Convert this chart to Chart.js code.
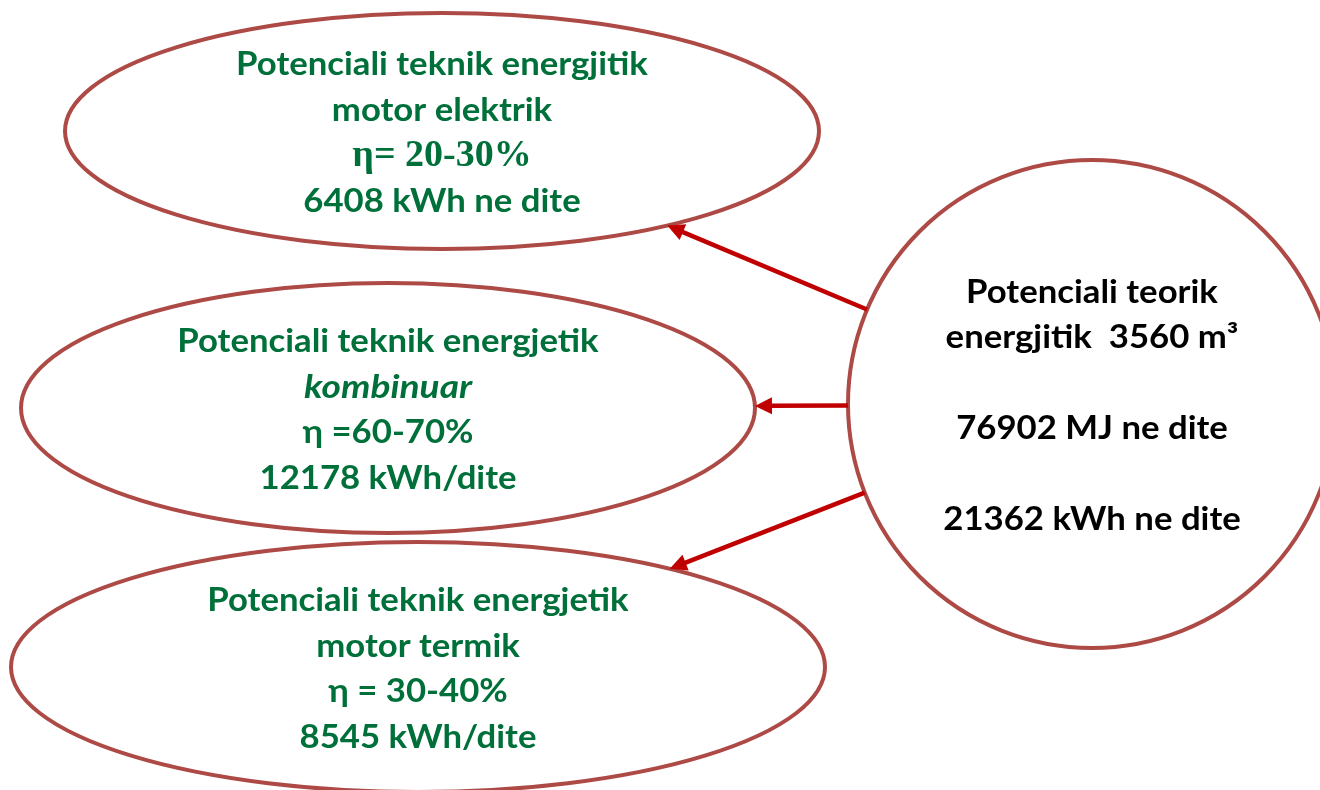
<!DOCTYPE html>
<html><head><meta charset="utf-8">
<script src="https://cdn.jsdelivr.net/npm/chart.js@4.4.1/dist/chart.umd.min.js"></script>
<style>html,body{margin:0;padding:0;background:#fff;overflow:hidden}canvas{display:block}</style>
</head><body>
<div style="width:1320px;height:790px"><canvas id="c" width="1320" height="790"></canvas></div>
<script>
// Diagram nodes (centre and radii in diagram units)
const nodeNames = ['motor elektrik', 'kombinuar', 'motor termik', 'teorik'];
const nodeX = [442, 388, 418, 1092];
const nodeY = [131, 408, 667, 404];
const nodeRX = [377, 367, 407, 244];
const nodeRY = [118, 125, 125, 244];
const nodeLabels = [
  ['Potenciali teknik energjitik', 'motor elektrik', 'η= 20-30%', '6408 kWh ne dite'],
  ['Potenciali teknik energjetik', 'kombinuar', 'η =60-70%', '12178 kWh/dite'],
  ['Potenciali teknik energjetik', 'motor termik', 'η = 30-40%', '8545 kWh/dite'],
  ['Potenciali teorik', 'energjitik  3560 m³', '', '76902 MJ ne dite', '', '21362 kWh ne dite']
];
// Arrows: from node -> to node
const edgeFrom = [3, 3, 3];
const edgeTo = [0, 1, 2];

// ---- styles ----
const ELLIPSE_STROKE = '#AD4A46';
const ARROW_COLOR = '#C00000';
const GREEN = '#00703A';
const STYLE_BASE = { font: '700 32px Lato', sx: 1.085 };
const STYLE_SERIF = { font: '700 38px "Liberation Serif"', sx: 1.0 };
const STYLE_ITALIC = { font: 'italic 700 32px Lato', sx: 1.16 };
const LINE_H = 45.5;
const BASE_OFF = 12.5;
function lineStyle(n, l) {
  if (n === 0 && l === 2) return STYLE_SERIF;
  if (n === 1 && l === 1) return STYLE_ITALIC;
  return STYLE_BASE;
}

const diagramPlugin = {
  id: 'diagram',
  afterDatasetsDraw(chart) {
    const ctx = chart.ctx;
    const xs = chart.scales.x, ys = chart.scales.y;
    const geo = nodeX.map((x, i) => {
      const px = xs.getPixelForValue(x), py = ys.getPixelForValue(nodeY[i]);
      return {
        x: px, y: py,
        rx: Math.abs(xs.getPixelForValue(x + nodeRX[i]) - px),
        ry: Math.abs(ys.getPixelForValue(nodeY[i] + nodeRY[i]) - py)
      };
    });
    ctx.save();
    // ellipses
    geo.forEach(g => {
      ctx.beginPath();
      ctx.ellipse(g.x, g.y, g.rx, g.ry, 0, 0, Math.PI * 2);
      ctx.fillStyle = '#fff';
      ctx.fill();
      ctx.lineWidth = 4;
      ctx.strokeStyle = ELLIPSE_STROKE;
      ctx.stroke();
    });
    // arrows
    function boundary(g, dx, dy) {
      const t = 1 / Math.sqrt((dx / g.rx) ** 2 + (dy / g.ry) ** 2);
      return [g.x + dx * t, g.y + dy * t];
    }
    edgeFrom.forEach((f, k) => {
      const a = geo[f], b = geo[edgeTo[k]];
      const dx = b.x - a.x, dy = b.y - a.y;
      const s = boundary(a, dx, dy);
      const e = boundary(b, -dx, -dy);
      const len = Math.hypot(e[0] - s[0], e[1] - s[1]);
      const ux = (e[0] - s[0]) / len, uy = (e[1] - s[1]) / len;
      const hl = 17, hw = 8.5;
      const bx = e[0] - ux * hl, by = e[1] - uy * hl;
      ctx.strokeStyle = ARROW_COLOR;
      ctx.fillStyle = ARROW_COLOR;
      ctx.lineWidth = 4.5;
      ctx.lineCap = 'butt';
      ctx.beginPath();
      ctx.moveTo(s[0], s[1]);
      ctx.lineTo(bx + ux * 2, by + uy * 2);
      ctx.stroke();
      ctx.beginPath();
      ctx.moveTo(e[0], e[1]);
      ctx.lineTo(bx - uy * hw, by + ux * hw);
      ctx.lineTo(bx + uy * hw, by - ux * hw);
      ctx.closePath();
      ctx.fill();
    });
    // text
    ctx.textAlign = 'center';
    ctx.textBaseline = 'alphabetic';
    nodeLabels.forEach((lines, n) => {
      const g = geo[n];
      const n0 = lines.length;
      ctx.fillStyle = n === 3 ? '#000' : GREEN;
      lines.forEach((t, l) => {
        if (!t) return;
        const st = lineStyle(n, l);
        ctx.font = st.font;
        const y = g.y + (l - (n0 - 1) / 2) * LINE_H + BASE_OFF;
        ctx.save();
        ctx.translate(g.x, y);
        ctx.scale(st.sx, 1);
        ctx.fillText(t, 0, 0);
        ctx.restore();
      });
    });
    ctx.restore();
  }
};

new Chart(document.getElementById('c'), {
  type: 'scatter',
  data: {
    labels: nodeNames,
    datasets: [{
      label: 'nodes',
      data: nodeX.map((x, i) => ({ x: x, y: nodeY[i] })),
      pointRadius: 0,
      pointHoverRadius: 0
    }]
  },
  options: {
    responsive: false,
    animation: false,
    layout: { padding: 0 },
    events: [],
    scales: {
      x: { type: 'linear', min: 0, max: 1320, display: false },
      y: { type: 'linear', min: 0, max: 790, reverse: true, display: false }
    },
    plugins: { legend: { display: false }, tooltip: { enabled: false } }
  },
  plugins: [diagramPlugin]
});
</script>
</body></html>
